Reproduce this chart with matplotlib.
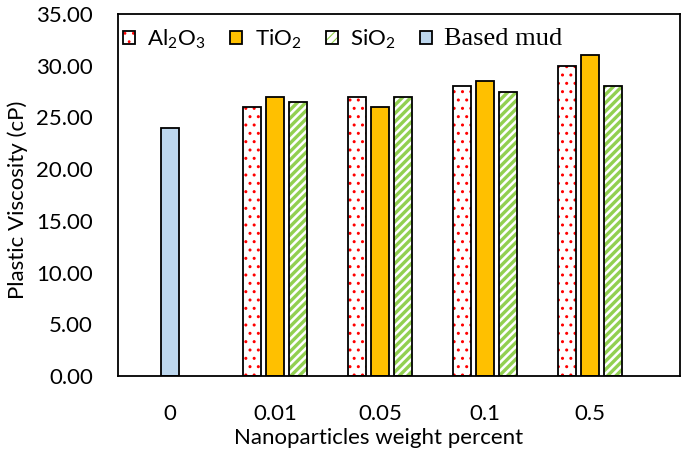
import matplotlib
matplotlib.use('Agg')
import matplotlib.pyplot as plt
from matplotlib.patches import Patch
from matplotlib.legend_handler import HandlerTuple
from matplotlib.ticker import FormatStrFormatter

plt.rcParams['font.family'] = ['Lato', 'DejaVu Sans']
plt.rcParams['mathtext.fontset'] = 'custom'
plt.rcParams['mathtext.rm'] = 'Lato'
plt.rcParams['mathtext.it'] = 'Lato'

# data
categories = ['0', '0.01', '0.05', '0.1', '0.5']
base_mud = [24.0]
al2o3 = [26.0, 27.0, 28.0, 30.0]
tio2 = [27.0, 26.0, 28.5, 31.0]
sio2 = [26.5, 27.0, 27.5, 28.0]

fig = plt.figure(figsize=(6.85, 4.55), dpi=100)
ax = fig.add_axes([118/685, 1-376/455, 562/685, 362/455])

w = 0.176
off = 0.22
xs = [1, 2, 3, 4]


def set_hlw(artists, lw):
    for a in artists:
        if hasattr(a, 'set_hatch_linewidth'):
            a.set_hatch_linewidth(lw)


# Al2O3: red dots on white
plt.rcParams['hatch.linewidth'] = 0.8
b = ax.bar([x - off for x in xs], al2o3, w, facecolor='white', edgecolor='red', hatch='..', linewidth=0)
set_hlw(b, 1.0)
ax.bar([x - off for x in xs], al2o3, w, facecolor='none', edgecolor='black', linewidth=1.3)

# TiO2
ax.bar(xs, tio2, w, color='#FFC000', edgecolor='black', linewidth=1.3)

# SiO2: green diagonal stripes
b = ax.bar([x + off for x in xs], sio2, w, facecolor='white', edgecolor='#92D050', hatch='////', linewidth=0)
set_hlw(b, 2.4)
ax.bar([x + off for x in xs], sio2, w, facecolor='none', edgecolor='black', linewidth=1.3)

# based mud
ax.bar([0], base_mud, w, color='#BDD7EE', edgecolor='black', linewidth=1.3)

ax.set_xlim(-0.495, 4.857)
ax.set_ylim(0, 35)
ax.set_yticks(range(0, 36, 5))
ax.yaxis.set_major_formatter(FormatStrFormatter('%.2f'))
ax.set_xticks(range(len(categories)))
ax.set_xticklabels(categories)
ax.tick_params(axis='y', length=0, pad=18, labelsize=16)
ax.tick_params(axis='x', length=0, pad=20, labelsize=16)
for s in ax.spines.values():
    s.set_linewidth(1.3)

ax.set_xlabel('Nanoparticles weight percent', fontsize=16)
ax.xaxis.set_label_coords(0.464, -0.145)
ax.set_ylabel('Plastic Viscosity (cP)', fontsize=16)
ax.yaxis.set_label_coords(-0.160, 0.486)

# legend
h_al = Patch(facecolor='white', edgecolor='red', hatch='..', linewidth=0)
h_si = Patch(facecolor='white', edgecolor='#92D050', hatch='////', linewidth=0)
set_hlw([h_al], 1.0)
set_hlw([h_si], 2.4)
box1 = Patch(facecolor='none', edgecolor='black', linewidth=1.3)
box2 = Patch(facecolor='none', edgecolor='black', linewidth=1.3)
h_ti = Patch(facecolor='#FFC000', edgecolor='black', linewidth=1.3)
h_base = Patch(facecolor='#BDD7EE', edgecolor='black', linewidth=1.3)
leg = ax.legend([(h_al, box1), h_ti, (h_si, box2), h_base],
                [r'Al$_2$O$_3$', r'TiO$_2$', r'SiO$_2$', 'Based mud'],
                handler_map={tuple: HandlerTuple(ndivide=1, pad=0)},
                ncol=4, loc='center left', bbox_to_anchor=(5/562, (376-39)/362),
                frameon=False, fontsize=16, borderpad=0, borderaxespad=0,
                handlelength=0.55, handleheight=0.55, handletextpad=0.55,
                columnspacing=1.1)
leg.get_texts()[3].set_fontfamily('Liberation Serif')
leg.get_texts()[3].set_fontsize(19)

fig.savefig('out.png', dpi=100)
